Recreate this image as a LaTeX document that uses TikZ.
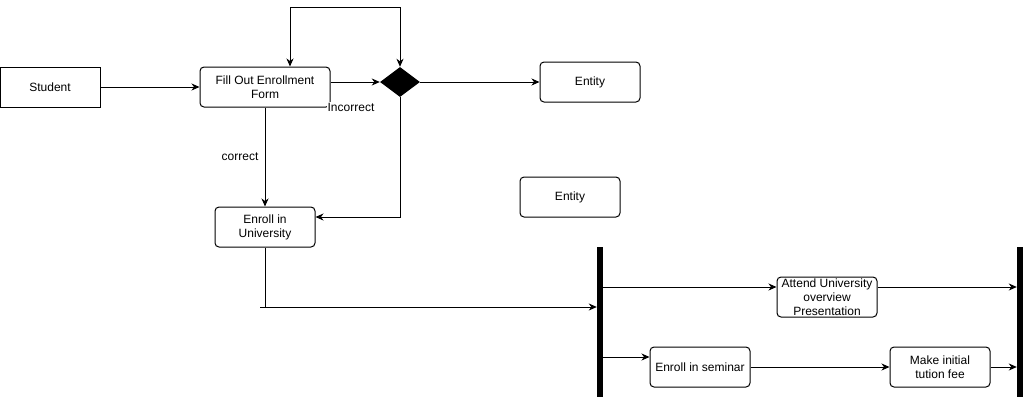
\documentclass[tikz,border=0pt]{standalone}
\usepackage{fontspec}
\setmainfont{Liberation Sans}
\usetikzlibrary{arrows.meta,shapes.geometric,calc}
\begin{document}
\begin{tikzpicture}[x=1pt,y=-1pt,
  font=\fontsize{12}{14}\selectfont,
  every node/.style={inner sep=0pt},
  box/.style={draw,line width=1pt,rounded corners=4pt,minimum width=100pt,minimum height=40pt,align=center},
  sharpbox/.style={draw,line width=1pt,minimum width=100pt,minimum height=40pt,align=center},
  bar/.style={fill=black,minimum width=6pt,minimum height=150pt},
  flow/.style={line width=1pt,-{Stealth[length=8pt,width=7pt,inset=2.5pt]}},
  plain/.style={line width=1pt},
  lbl/.style={fill=white,inner sep=0.5pt}]
\useasboundingbox (0,0) rectangle (1029,400);

% activity nodes
\node[sharpbox] (student) at (50,87) {Student};
\node[box,minimum width=130pt] (form) at (265,87) {Fill Out Enrollment\\Form};
\node[diamond,fill=black,minimum width=40pt,minimum height=30pt] (dec) at (400,82) {};
\node[box] (ent1) at (590,82) {Entity};
\node[box] (ent2) at (570,197) {Entity};
\node[box] (univ) at (265,227) {Enroll in\\University};
\node[bar] (fork) at (600,322) {};
\node[bar] (join) at (1020,322) {};
\node[box] (pres) at (827,297) {Attend University\\overview\\Presentation};
\node[box] (sem) at (700,367) {Enroll in seminar};
\node[box] (fee) at (940,367) {Make initial\\tution fee};

% helper points
\coordinate (loopL) at (290,7);
\coordinate (loopR) at (400,7);
\coordinate (tick) at (260,307);

% connectors
\draw[flow] (student.east) -- (form.west);
\draw[flow] (form.east |- dec) -- (dec.west);
\draw[flow] (loopL) -- (loopR) -- (dec.north);
\draw[flow] (loopL) -- (loopL |- form.north);
\draw[flow] (dec.east) -- (ent1.west);
\draw[flow] (dec.south) |- (univ.east |- 0,217);
\draw[flow] (form.south) -- node[lbl,pos=0.5,xshift=-25pt] {correct} (univ.north);
\node[lbl] (inc) at (351,107) {Incorrect};
\draw[plain] (univ.south) -- (univ.south |- tick);
\draw[flow] (tick) -- (tick -| fork.west);
\draw[flow] (fork.east |- 0,287) -- (pres.west |- 0,287);
\draw[flow] (pres.east |- 0,287) -- (join.west |- 0,287);
\draw[flow] (fork.east |- 0,357) -- (sem.west |- 0,357);
\draw[flow] (sem.east) -- (fee.west);
\draw[flow] (fee.east) -- (join.west |- fee.east);
\end{tikzpicture}
\end{document}
